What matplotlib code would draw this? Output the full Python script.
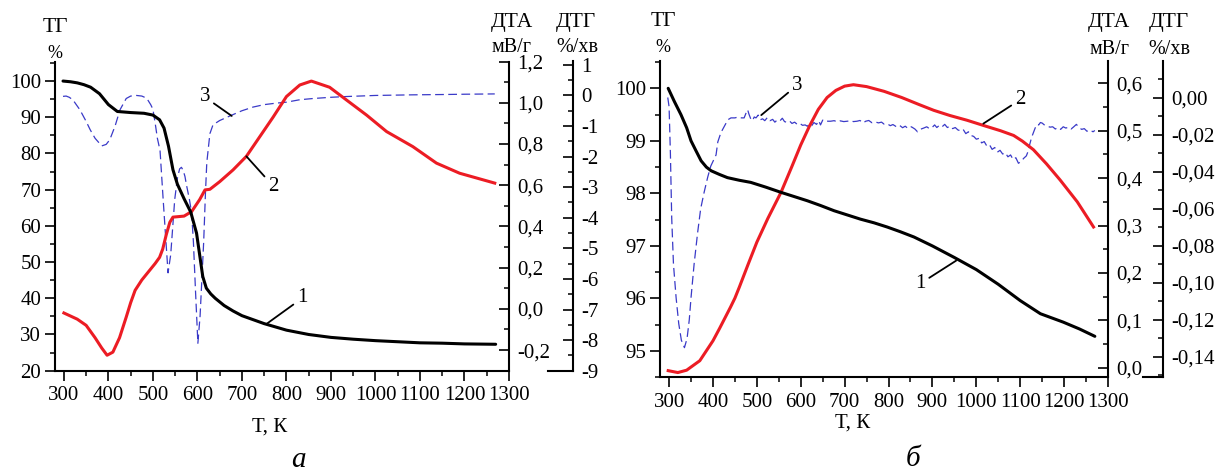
import matplotlib
matplotlib.use('Agg')
import matplotlib.pyplot as plt
from matplotlib.ticker import MultipleLocator, FixedLocator, FuncFormatter

plt.rcParams['font.family'] = ['Liberation Serif', 'DejaVu Serif']

# ---------------- data: panel a ----------------
a_tg_T = [298, 315, 330, 345, 360, 380, 400, 420, 450, 480, 500, 515, 525, 535, 545, 555,
          570, 585, 598, 605, 612, 620, 630, 640, 660, 680, 700, 750, 800, 850, 900, 950,
          1000, 1050, 1100, 1150, 1200, 1270]
a_tg = [100.0, 99.8, 99.5, 99.0, 98.3, 96.5, 93.5, 91.6, 91.3, 91.1, 90.6, 89.3, 87.0, 82.0,
        75.5, 71.5, 67.5, 63.8, 58.0, 52.0, 46.0, 42.8, 41.2, 40.0, 38.0, 36.5, 35.2, 33.0,
        31.2, 30.0, 29.2, 28.7, 28.3, 28.0, 27.7, 27.6, 27.4, 27.3]

a_dta_T = [300, 310, 330, 350, 370, 385, 397, 410, 425, 440, 450, 460, 475, 490, 505, 515,
           522, 530, 538, 545, 570, 587, 605, 617, 628, 650, 680, 710, 740, 770, 800, 830,
           856, 897, 935, 980, 1025, 1084, 1137, 1189, 1268]
a_dta = [-0.02, -0.03, -0.05, -0.08, -0.14, -0.19, -0.225, -0.21, -0.14, -0.04, 0.03, 0.09,
         0.14, 0.18, 0.22, 0.25, 0.29, 0.36, 0.42, 0.445, 0.45, 0.472, 0.53, 0.577, 0.58,
         0.617, 0.674, 0.74, 0.835, 0.93, 1.03, 1.086, 1.105, 1.075, 1.013, 0.94, 0.86,
         0.787, 0.707, 0.658, 0.61]

a_dtg_T = [298, 305, 312, 320, 336, 350, 359, 370, 385, 395, 403, 415, 426, 440, 450, 463,
           475, 486, 495, 500, 505, 510, 516, 523, 528, 534, 540, 545, 549, 555, 560, 564,
           568, 572, 575, 582, 587, 591, 596, 601, 606, 610, 614, 618, 621, 628, 635, 650,
           673, 700, 725, 750, 778, 800, 830, 860, 900, 935, 1000, 1084, 1150, 1200, 1268]
a_dtg = [-0.03, -0.02, -0.06, -0.14, -0.47, -0.85, -1.12, -1.4, -1.65, -1.6, -1.45, -1.0,
         -0.47, -0.1, -0.02, 0.0, -0.02, -0.09, -0.3, -0.45, -0.9, -1.4, -1.8, -3.4, -4.5,
         -5.8, -5.2, -4.2, -3.4, -2.7, -2.4, -2.35, -2.45, -2.65, -2.9, -3.4, -3.85, -4.8,
         -6.5, -8.1, -7.2, -6.0, -4.8, -3.2, -2.2, -1.25, -0.96, -0.82, -0.67, -0.5, -0.38,
         -0.3, -0.25, -0.22, -0.14, -0.1, -0.06, -0.035, 0.0, 0.02, 0.03, 0.04, 0.05]

# ---------------- data: panel б ----------------
b_tg_T = [298, 312, 327, 340, 350, 362, 373, 385, 396, 415, 433, 460, 486, 520, 555, 585,
          615, 645, 676, 706, 736, 767, 797, 827, 858, 900, 950, 1000, 1050, 1100, 1146,
          1198, 1235, 1270]
b_tg = [100.0, 99.75, 99.5, 99.25, 99.0, 98.8, 98.62, 98.5, 98.43, 98.36, 98.3, 98.25,
        98.21, 98.12, 98.02, 97.94, 97.86, 97.77, 97.67, 97.59, 97.51, 97.44, 97.36, 97.27,
        97.17, 97.0, 96.78, 96.55, 96.27, 95.96, 95.71, 95.55, 95.42, 95.28]

b_dta_T = [298, 320, 340, 370, 400, 415, 430, 440, 450, 460, 480, 500, 525, 555, 580, 600,
           620, 640, 660, 680, 700, 720, 750, 790, 830, 870, 903, 940, 979, 1020, 1055, 1085,
           1105, 1130, 1160, 1191, 1230, 1267]
b_dta = [-0.006, -0.01, -0.005, 0.015, 0.057, 0.083, 0.11, 0.128, 0.147, 0.17, 0.218, 0.265,
         0.315, 0.37, 0.425, 0.47, 0.51, 0.545, 0.57, 0.585, 0.594, 0.597, 0.593, 0.583,
         0.57, 0.555, 0.543, 0.532, 0.522, 0.51, 0.5, 0.49, 0.478, 0.46, 0.43, 0.396, 0.35,
         0.297]

b_dtg_T = [297, 300, 303, 306, 310, 316, 322, 328, 335, 341, 346, 350, 357, 365, 372, 380,
           388, 395, 403, 407, 411, 418, 426, 434, 441, 450, 458, 465, 471, 476, 479, 482,
           486, 490, 494, 498, 503, 508, 513, 518, 524, 530, 536, 541, 547, 553, 558, 563,
           570, 575, 580, 586, 592, 598, 604, 610, 615, 620, 625, 630, 636, 641, 645, 650,
           655, 660, 668, 676, 684, 690, 698, 706, 714, 720, 728, 735, 742, 748, 755, 762,
           770, 777, 784, 790, 797, 804, 810, 818, 825, 832, 838, 845, 852, 860, 866, 872,
           880, 887, 893, 900, 905, 910, 916, 922, 928, 934, 940, 946, 952, 958, 964, 970,
           976, 982, 988, 994, 1000, 1007, 1012, 1018, 1024, 1030, 1036, 1042, 1048, 1054,
           1060, 1066, 1072, 1078, 1084, 1090, 1096, 1102, 1108, 1114, 1118, 1122, 1126,
           1130, 1134, 1138, 1142, 1146, 1150, 1156, 1162, 1168, 1174, 1180, 1186, 1192,
           1198, 1204, 1210, 1216, 1222, 1228, 1234, 1240, 1246, 1252, 1258, 1266, 1270]
b_dtg = [0.0, -0.005, -0.03, -0.065, -0.09, -0.108, -0.122, -0.131, -0.135, -0.13, -0.12,
         -0.108, -0.09, -0.073, -0.06, -0.051, -0.043, -0.037, -0.033, -0.031, -0.024,
         -0.019, -0.0155, -0.012, -0.011, -0.011, -0.0105, -0.011, -0.011, -0.008, -0.0066,
         -0.009, -0.0115, -0.0125, -0.0105, -0.011, -0.0095, -0.012, -0.0115, -0.0125,
         -0.0108, -0.0125, -0.0118, -0.0133, -0.012, -0.0125, -0.0112, -0.013, -0.0135,
         -0.0128, -0.014, -0.0133, -0.0145, -0.014, -0.015, -0.0148, -0.0155, -0.0143,
         -0.0152, -0.0135, -0.0145, -0.0125, -0.0148, -0.0122, -0.013, -0.0128, -0.0128,
         -0.0125, -0.0132, -0.0126, -0.013, -0.0128, -0.0125, -0.013, -0.0128, -0.0124,
         -0.0137, -0.0128, -0.0124, -0.0136, -0.0132, -0.0137, -0.0133, -0.0144, -0.0142,
         -0.0152, -0.0146, -0.0158, -0.015, -0.0163, -0.0155, -0.0168, -0.0158, -0.017,
         -0.0185, -0.0172, -0.0165, -0.0158, -0.0168, -0.016, -0.0148, -0.0162, -0.015,
         -0.0158, -0.0145, -0.0162, -0.0155, -0.0168, -0.0162, -0.0175, -0.018, -0.0172,
         -0.0195, -0.0185, -0.0205, -0.021, -0.0225, -0.022, -0.0245, -0.0238, -0.0262,
         -0.0255, -0.028, -0.027, -0.0295, -0.0285, -0.0305, -0.0298, -0.032, -0.031,
         -0.0335, -0.0325, -0.0355, -0.0345, -0.0328, -0.0315, -0.029, -0.025, -0.0215,
         -0.019, -0.0165, -0.0145, -0.0148, -0.0135, -0.0138, -0.015, -0.0155, -0.016,
         -0.0158, -0.017, -0.0162, -0.0172, -0.0158, -0.0165, -0.016, -0.017, -0.0158,
         -0.0145, -0.0162, -0.0172, -0.0168, -0.0182, -0.0175, -0.0185, -0.0178]

x_ticks = [300, 400, 500, 600, 700, 800, 900, 1000, 1100, 1200, 1300]

# ---------------- figure ----------------
W, H = 1216, 472
fig = plt.figure(figsize=(W / 100, H / 100), dpi=100)

FS = 15
RED = '#ec1c24'
BLUE = '#3a3ac8'


def box(l, t, r, b):
    return [l / W, 1 - b / H, (r - l) / W, (b - t) / H]


def comma(fmt):
    def f(v, pos):
        if abs(v) < 1e-9:
            v = 0.0
        return format(v, fmt).replace('.', ',')
    return FuncFormatter(f)


def panel(rect, tg_lim, tg_major, tg_minor, dta_lim, dta_ticks, dta_minor, dta_fmt,
          dtg_lim, dtg_ticks, dtg_minor, dtg_fmt, dtg_pos, stub_from, data):
    ax = fig.add_axes(rect)
    axG = ax.twinx()
    axD = ax.twinx()
    axG.set_zorder(1)
    axD.set_zorder(2)
    ax.set_zorder(3)
    for a in (ax, axG, axD):
        a.patch.set_visible(False)

    (tgT, tg, dtaT, dta, dtgT, dtg) = data
    ax.plot(tgT, tg, color='black', lw=2.2, solid_capstyle='round')
    axD.plot(dtaT, dta, color=RED, lw=2.2)
    axG.plot(dtgT, dtg, color=BLUE, lw=0.9, dashes=(7, 3.5))

    ax.set_xlim(280, 1300)
    ax.set_ylim(*tg_lim)
    axD.set_ylim(*dta_lim)
    axG.set_ylim(*dtg_lim)

    for a in (ax, axG, axD):
        for s in a.spines.values():
            s.set_visible(False)
            s.set_linewidth(1.5)
    ax.spines['left'].set_visible(True)
    ax.spines['bottom'].set_visible(True)
    axD.spines['right'].set_visible(True)
    axG.spines['right'].set_visible(True)
    axG.spines['right'].set_position(('axes', dtg_pos))

    ax.xaxis.set_major_locator(FixedLocator(x_ticks))
    ax.xaxis.set_minor_locator(MultipleLocator(50))
    ax.yaxis.set_major_locator(MultipleLocator(tg_major))
    ax.yaxis.set_minor_locator(MultipleLocator(tg_minor))
    ax.tick_params(which='major', direction='out', length=7, width=1.2, labelsize=FS, pad=3)
    ax.tick_params(which='minor', direction='out', length=3.5, width=1.1)
    ax.tick_params(axis='x', which='major', pad=4)

    axD.yaxis.set_major_locator(FixedLocator(dta_ticks))
    axD.yaxis.set_minor_locator(MultipleLocator(dta_minor))
    axD.yaxis.set_major_formatter(comma(dta_fmt))
    axD.tick_params(which='major', direction='in', length=7, width=1.2, labelsize=FS, pad=6)
    axD.tick_params(which='minor', direction='in', length=3.5, width=1.1)

    axG.yaxis.set_major_locator(FixedLocator(dtg_ticks))
    axG.yaxis.set_minor_locator(MultipleLocator(dtg_minor))
    axG.yaxis.set_major_formatter(comma(dtg_fmt))
    axG.tick_params(which='major', direction='in', length=7, width=1.2, labelsize=FS, pad=6)
    axG.tick_params(which='minor', direction='in', length=3.5, width=1.1)

    ax.plot([stub_from, dtg_pos], [0, 0], transform=ax.transAxes, clip_on=False,
            color='black', lw=1.5)
    return ax, axD, axG


# panel a
axA, axAD, axAG = panel(box(55, 61.5, 509, 370.7), (20, 105.4), 10, 5,
                        (-0.3, 1.2), [-0.2, 0.0, 0.2, 0.4, 0.6, 0.8, 1.0, 1.2], 0.1, '.1f',
                        (-9, 1.11), list(range(-9, 2)), 0.5, '.0f',
                        (573 - 55) / 454, (548 - 55) / 454,
                        (a_tg_T, a_tg, a_dta_T, a_dta, a_dtg_T, a_dtg))
axA.yaxis.set_major_locator(FixedLocator([20, 30, 40, 50, 60, 70, 80, 90, 100]))

# panel б
axB, axBD, axBG = panel(box(660.3, 61, 1108, 377.3), (94.5, 100.52), 1, 0.5,
                        (-0.02, 0.647), [0.0, 0.1, 0.2, 0.3, 0.4, 0.5, 0.6], 0.05, '.1f',
                        (-0.151, 0.0197), [-0.14, -0.12, -0.10, -0.08, -0.06, -0.04, -0.02, 0.0],
                        0.01, '.2f',
                        (1162.7 - 660.3) / 447.7, (1143 - 660.3) / 447.7,
                        (b_tg_T, b_tg, b_dta_T, b_dta, b_dtg_T, b_dtg))
axB.yaxis.set_major_locator(FixedLocator([95, 96, 97, 98, 99, 100]))

# curve numbers
arrow = dict(arrowstyle='-', color='black', lw=1.3, shrinkA=1, shrinkB=0)
AFS = 15
axAG.annotate('3', xy=(677, -0.67), xytext=(-27, 19), textcoords='offset pixels',
              fontsize=AFS, ha='center', va='center', arrowprops=arrow)
axAD.annotate('2', xy=(710, 0.74), xytext=(27, -30), textcoords='offset pixels',
              fontsize=AFS, ha='center', va='center', arrowprops=arrow)
axA.annotate('1', xy=(755, 32.9), xytext=(36, 26), textcoords='offset pixels',
             fontsize=AFS, ha='center', va='center', arrowprops=arrow)
axBG.annotate('3', xy=(510, -0.0095), xytext=(36, 30), textcoords='offset pixels',
              fontsize=AFS, ha='center', va='center', arrowprops=arrow)
axBD.annotate('2', xy=(1016, 0.515), xytext=(37, 24), textcoords='offset pixels',
              fontsize=AFS, ha='center', va='center', arrowprops=arrow)
axB.annotate('1', xy=(954, 96.72), xytext=(-36, -23), textcoords='offset pixels',
             fontsize=AFS, ha='center', va='center', arrowprops=arrow)


def ftext(x, y, s, **kw):
    fig.text(x / W, 1 - y / H, s, ha='center', va='center', **kw)


# axis titles
ftext(55, 28, 'ТГ', fontsize=15.5)
ftext(55, 53, '%', fontsize=13)
ftext(512, 23, 'ДТА', fontsize=15.5)
ftext(511, 48, 'мВ/г', fontsize=14.5)
ftext(576, 23, 'ДТГ', fontsize=15.5)
ftext(577, 48, '%/хв', fontsize=14.5)

ftext(663, 21, 'ТГ', fontsize=15.5)
ftext(663, 48, '%', fontsize=13)
ftext(1109, 23, 'ДТА', fontsize=15.5)
ftext(1109, 49, 'мВ/г', fontsize=14.5)
ftext(1169, 23, 'ДТГ', fontsize=15.5)
ftext(1169, 49, '%/хв', fontsize=14.5)

ftext(270, 427, 'Т, К', fontsize=15)
ftext(853, 423, 'Т, К', fontsize=15)
ftext(298, 460, 'а', fontsize=21, style='italic')
ftext(913, 459, 'б', fontsize=21, style='italic')

fig.savefig('out.png', dpi=100, facecolor='white')
